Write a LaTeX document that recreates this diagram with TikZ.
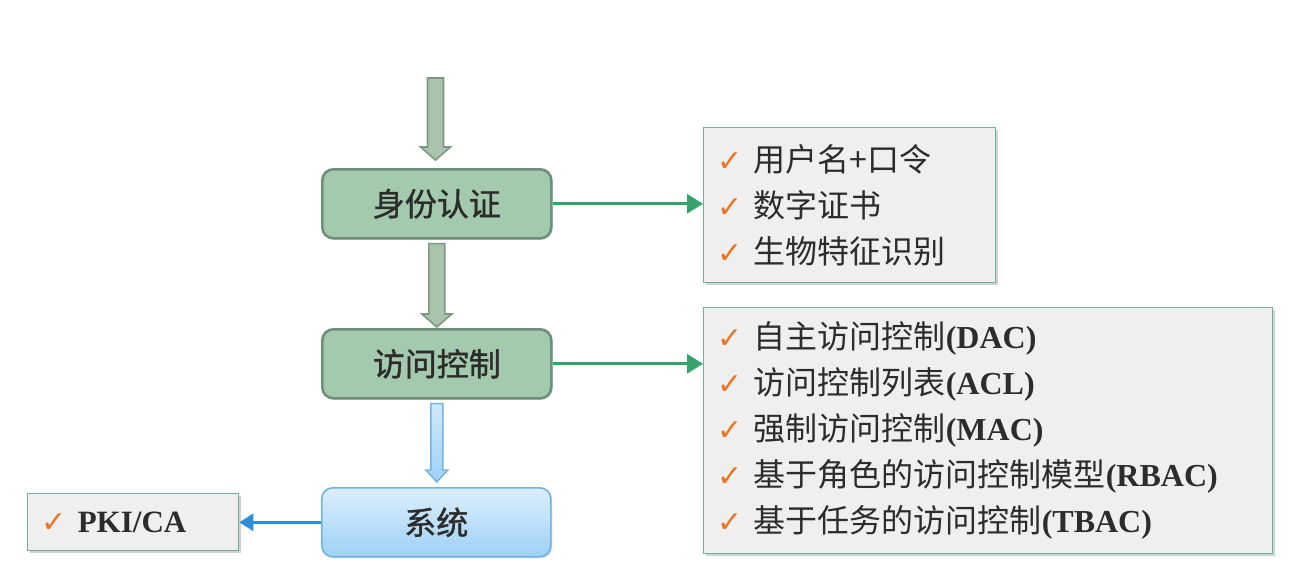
\documentclass[tikz,border=0pt]{standalone}
\usepackage{fontspec}
\setmainfont{Liberation Serif}
\newfontfamily\cjk{Noto Sans CJK SC}
\newfontfamily\cjkbox[FakeBold=1.2]{Noto Sans CJK SC}
\newfontfamily\chkfont{DejaVu Sans}
\usetikzlibrary{arrows.meta,calc,shadows}
\definecolor{boxgreen}{HTML}{A4CAAE}
\definecolor{boxgreenline}{HTML}{6F8F78}
\definecolor{arrgreen}{HTML}{A9C3AD}
\definecolor{arrgreenline}{HTML}{7C9A82}
\definecolor{linkgreen}{HTML}{36A26C}
\definecolor{linkblue}{HTML}{2E8FD6}
\definecolor{bluetop}{HTML}{DCEFFD}
\definecolor{bluebot}{HTML}{9DD1F5}
\definecolor{blueline}{HTML}{6FB4E3}
\definecolor{listfill}{HTML}{EFEFEF}
\definecolor{listline}{HTML}{6DB391}
\definecolor{chkorange}{HTML}{EC7522}
\definecolor{txt}{HTML}{2C2C2C}
\newcommand\ck{{\chkfont\color{chkorange}\fontsize{30}{30}\selectfont ✓}\hspace{11pt}}
\newcommand\latb[1]{{\rmfamily\bfseries #1}}
\newcommand\blkarrow[6]{%
  \path[#1] let \p1=(#2), \p2=(#3) in
    (\x1-#4,\y1) -- (\x1+#4,\y1) -- (\x1+#4,\y2+#6) -- (\x1+#5,\y2+#6)
    -- (\x1,\y2) -- (\x1-#5,\y2+#6) -- (\x1-#4,\y2+#6) -- cycle;}
\tikzset{
  mainbox/.style={draw=boxgreenline, line width=2.6pt, fill=boxgreen,
    rounded corners=11pt, minimum width=229pt, minimum height=69pt,
    anchor=north west, inner sep=0pt, font=\cjkbox\fontsize{32}{32}\selectfont,
    text=txt, drop shadow={shadow xshift=1.5pt, shadow yshift=-1.5pt, opacity=0.25}},
  sysbox/.style={mainbox, draw=blueline, line width=1.6pt,
    top color=bluetop, bottom color=bluebot},
  listbox/.style={draw=listline, line width=1.3pt, fill=listfill,
    anchor=north west, inner xsep=14pt, inner ysep=0pt, align=left,
    font=\cjk\fontsize{32}{46}\selectfont, text=txt,
    drop shadow={shadow xshift=2pt, shadow yshift=-2pt, opacity=0.35}},
  garrow/.style={fill=arrgreen, draw=arrgreenline, line width=1.6pt},
  barrow/.style={top color=bluetop!80!bluebot, bottom color=bluebot, draw=blueline, line width=1.4pt},
  glink/.style={draw=linkgreen, line width=2.8pt, -{Triangle[length=16pt,width=19pt]}},
  blink/.style={draw=linkblue, line width=2.8pt, -{Triangle[length=14pt,width=17pt]}},
}
\begin{document}
\begin{tikzpicture}[x=1pt,y=-1pt]
\useasboundingbox[fill=white] (0,0) rectangle (1306,568);
% main column
\node[mainbox] (b1) at (321,168) {身份认证};
\node[mainbox] (b2) at (321,328) {访问控制};
\node[sysbox] (b3) at (321,487) {系统};
\coordinate (top) at (435.5,78);
% list boxes
\node[listbox, text width=264pt, minimum height=155pt] (l1) at (703,127)
  {\ck 用户名+口令\\ \ck 数字证书\\ \ck 生物特征识别};
\node[listbox, text width=541pt, minimum height=246pt] (l2) at (703,307)
  {\ck 自主访问控制\latb{(DAC)}\\
   \ck 访问控制列表\latb{(ACL)}\\
   \ck 强制访问控制\latb{(MAC)}\\
   \ck 基于角色的访问控制模型\latb{(RBAC)}\\
   \ck 基于任务的访问控制\latb{(TBAC)}};
\node[listbox, text width=183pt, minimum height=57pt, font=\fontsize{31}{31}\selectfont] (pki) at (27,493)
  {\ck\latb{PKI/CA}};
% block arrows
\blkarrow{garrow}{top}{$(b1.north)+(0,-8)$}{8pt}{15pt}{13pt}
\blkarrow{garrow}{$(b1.south)+(0,4)$}{$(b2.north)+(0,-1)$}{8pt}{15pt}{13pt}
\blkarrow{barrow}{$(b2.south)+(0,4)$}{$(b3.north)+(0,-5)$}{6pt}{11pt}{12pt}
% connectors
\draw[glink] (b1.east) -- (b1.east -| l1.west);
\draw[glink] (b2.east) -- (b2.east -| l2.west);
\draw[blink] (b3.west) -- (b3.west -| pki.east);
\end{tikzpicture}
\end{document}
